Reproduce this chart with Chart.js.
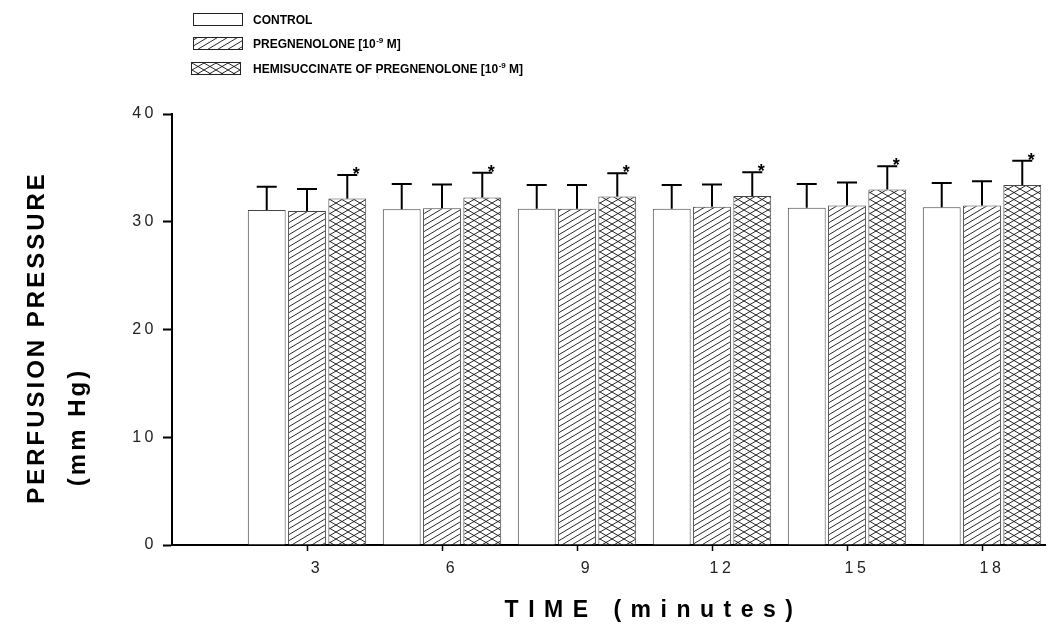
<!DOCTYPE html>
<html><head><meta charset="utf-8">
<script src="https://cdn.jsdelivr.net/npm/chart.js@4"></script>
<style>html,body{margin:0;padding:0;background:#fff}#wrap{width:1050px;height:625px;position:relative}</style>
</head><body><div id="wrap"><canvas id="c" width="1050" height="625"></canvas></div>
<script>
// ---- data ----
const times = [3, 6, 9, 12, 15, 18];
const xTicks = [3, 6, 9, 12, 15, 18];
const yTicks = [0, 10, 20, 30, 40];
const seriesNames = ['CONTROL', 'PREGNENOLONE [10\u207B\u2079 M]', 'HEMISUCCINATE OF PREGNENOLONE [10\u207B\u2079 M]'];
const legendMain = ['CONTROL', 'PREGNENOLONE [10', 'HEMISUCCINATE OF PREGNENOLONE [10'];
const legendSup = ['', '-9', '-9'];
const legendTail = ['', ' M]', ' M]'];
const control = [31.1, 31.15, 31.2, 31.2, 31.3, 31.35];
const pregnenolone = [31.0, 31.25, 31.2, 31.4, 31.5, 31.5];
const hemisuccinate = [32.15, 32.25, 32.35, 32.4, 33.0, 33.4];
const controlErr = [2.15, 2.35, 2.2, 2.2, 2.2, 2.25];
const pregnenoloneErr = [2.05, 2.2, 2.2, 2.05, 2.15, 2.25];
const hemisuccinateErr = [2.2, 2.3, 2.15, 2.2, 2.15, 2.25];
const controlSig = [false, false, false, false, false, false];
const pregnenoloneSig = [false, false, false, false, false, false];
const hemisuccinateSig = [true, true, true, true, true, true];
const yTitle = 'PERFUSION PRESSURE';
const yTitle2 = '(mm Hg)';
const xTitle = 'TIME (minutes)';

const FONT = "'Liberation Sans', Arial, Helvetica, sans-serif";

// ---- patterns ----
function makePattern(w, h, kind) {
  const c = document.createElement('canvas');
  c.width = w; c.height = h;
  const g = c.getContext('2d');
  g.fillStyle = '#fff'; g.fillRect(0, 0, w, h);
  g.strokeStyle = '#111'; g.lineWidth = 0.9;
  if (kind === 'hatch' || kind === 'cross') {
    for (const dy of [-h, 0, h]) {
      g.beginPath(); g.moveTo(-1, h + dy + h / w); g.lineTo(w + 1, dy - h / w); g.stroke();
    }
  }
  if (kind === 'cross') {
    for (const dy of [-h, 0, h]) {
      g.beginPath(); g.moveTo(-1, dy - h / w); g.lineTo(w + 1, h + dy + h / w); g.stroke();
    }
  }
  return document.getElementById('c').getContext('2d').createPattern(c, 'repeat');
}
const fills = ['#ffffff', makePattern(10, 6, 'hatch'), makePattern(12, 7, 'cross')];

const values = [control, pregnenolone, hemisuccinate];
const errs = [controlErr, pregnenoloneErr, hemisuccinateErr];
const sigs = [controlSig, pregnenoloneSig, hemisuccinateSig];

const datasets = values.map((vals, k) => ({
  label: seriesNames[k],
  data: times.map((t, i) => ({ x: t, y: vals[i] })),
  backgroundColor: fills[k],
  borderColor: '#444',
  borderWidth: 1,
  categoryPercentage: 0.895,
  barPercentage: 0.94
}));

// ---- plugins ----
const spacingPlugin = {
  id: 'spacing',
  beforeDraw(chart) {
    const conf = {
      x: { title: '9.5px', labels: '3.5px', tx: 45, ty: 0 },
      y: { title: '3px', labels: '3.5px', tx: 0, ty: 8 }
    };
    for (const id of Object.keys(conf)) {
      const s = chart.scales[id];
      if (!s || s._patched) continue;
      const sp = conf[id];
      const t = s.drawTitle, l = s.drawLabels;
      s.drawTitle = function (...a) { const c = this.ctx; c.save(); c.letterSpacing = sp.title; c.translate(sp.tx, sp.ty); t.apply(this, a); c.restore(); };
      s.drawLabels = function (...a) { const c = this.ctx; c.save(); c.letterSpacing = sp.labels; l.apply(this, a); c.restore(); };
      s._patched = true;
    }
  }
};

const errorBarPlugin = {
  id: 'errorBars',
  afterDatasetsDraw(chart) {
    const ctx = chart.ctx, ys = chart.scales.y;
    ctx.save();
    chart.data.datasets.forEach((ds, k) => {
      const meta = chart.getDatasetMeta(k);
      meta.data.forEach((bar, i) => {
        const top = ys.getPixelForValue(values[k][i]);
        const cap = ys.getPixelForValue(values[k][i] + errs[k][i]);
        ctx.strokeStyle = '#000'; ctx.lineWidth = 2;
        ctx.beginPath();
        ctx.moveTo(bar.x, top); ctx.lineTo(bar.x, cap);
        ctx.moveTo(bar.x - 10, cap); ctx.lineTo(bar.x + 10, cap);
        ctx.stroke();
        if (sigs[k][i]) {
          ctx.fillStyle = '#000';
          ctx.font = 'bold 18px ' + FONT;
          ctx.textAlign = 'center'; ctx.textBaseline = 'alphabetic';
          ctx.fillText('*', bar.x + 9, cap + 5);
        }
      });
    });
    ctx.restore();
  }
};

const legendPlugin = {
  id: 'customLegend',
  afterDraw(chart) {
    const ctx = chart.ctx;
    ctx.save();
    const boxX = [193, 193, 191], boxY = [13, 37, 62];
    for (let k = 0; k < 3; k++) {
      ctx.fillStyle = fills[k];
      ctx.fillRect(boxX[k], boxY[k], 49, 12);
      ctx.strokeStyle = '#222'; ctx.lineWidth = 1;
      ctx.strokeRect(boxX[k] + 0.5, boxY[k] + 0.5, 49, 12);
      ctx.fillStyle = '#000';
      ctx.textBaseline = 'alphabetic'; ctx.textAlign = 'left';
      ctx.font = 'bold 12px ' + FONT;
      const base = boxY[k] + 11;
      let x = 253;
      ctx.fillText(legendMain[k], x, base);
      x += ctx.measureText(legendMain[k]).width;
      if (legendSup[k]) {
        ctx.font = 'bold 8px ' + FONT;
        ctx.fillText(legendSup[k], x + 0.5, base - 5);
        x += ctx.measureText(legendSup[k]).width + 0.5;
        ctx.font = 'bold 12px ' + FONT;
        ctx.fillText(legendTail[k], x, base);
      }
    }
    // second line of y title
    ctx.font = 'bold 24px ' + FONT;
    ctx.letterSpacing = '3px';
    ctx.translate(78, 427);
    ctx.rotate(-Math.PI / 2);
    ctx.textAlign = 'center'; ctx.textBaseline = 'middle';
    ctx.fillText(yTitle2, 0, 0);
    ctx.restore();
  }
};

new Chart(document.getElementById('c'), {
  type: 'bar',
  data: { datasets },
  options: {
    responsive: false,
    animation: false,
    devicePixelRatio: 1,
    layout: { padding: { top: 114, right: 5, left: 0, bottom: 0 } },
    plugins: { legend: { display: false }, tooltip: { enabled: false }, title: { display: false } },
    scales: {
      x: {
        type: 'linear',
        offset: false,
        min: 0, max: 19.4,
        afterBuildTicks: (s) => { s.ticks = xTicks.map(v => ({ value: v })); },
        afterFit: (s) => { s.height = 80; },
        grid: { display: true, offset: false, drawOnChartArea: false, drawTicks: true, tickLength: 6, tickWidth: 1.5, tickColor: '#000' },
        border: { display: true, color: '#000', width: 2 },
        ticks: { color: '#222', font: { family: FONT, size: 16 }, padding: 8, labelOffset: 10, maxRotation: 0, autoSkip: false,
                 callback: (v) => String(v) },
        title: { display: true, text: xTitle, color: '#000', font: { family: FONT, size: 23, weight: 'bold' }, padding: { top: 0, bottom: 1 } }
      },
      y: {
        min: 0, max: 40,
        afterBuildTicks: (s) => { s.ticks = yTicks.map(v => ({ value: v })); },
        afterFit: (s) => { s.width = 172; },
        grid: { display: true, drawOnChartArea: false, drawTicks: true, tickLength: 9, tickWidth: 2, tickColor: '#000' },
        border: { display: true, color: '#000', width: 2 },
        ticks: { color: '#222', font: { family: FONT, size: 16 }, padding: 6, callback: (v) => String(v) },
        title: { display: true, text: yTitle, color: '#000', font: { family: FONT, size: 24, weight: 'bold' }, padding: { top: 23, bottom: 0 } }
      }
    }
  },
  plugins: [spacingPlugin, errorBarPlugin, legendPlugin]
});
</script></body></html>
